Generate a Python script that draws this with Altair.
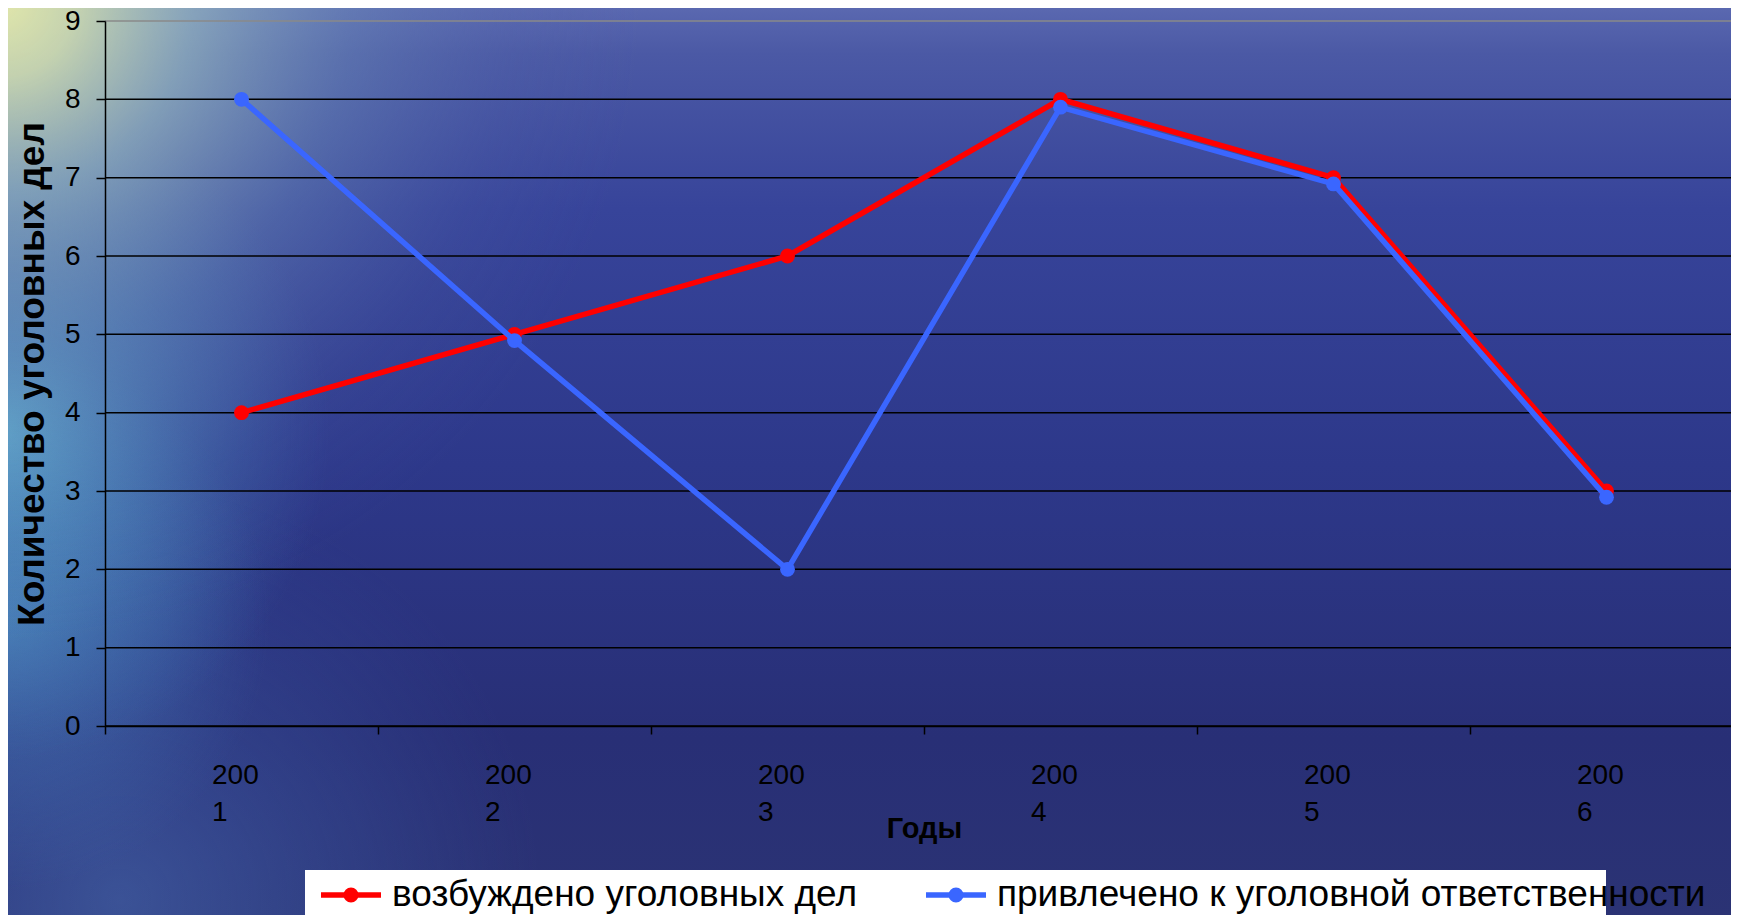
import altair as alt
import pandas as pd

years = ["2001", "2002", "2003", "2004", "2005", "2006"]
cases = [4, 5, 6, 8, 7, 3]
persons = [8, 4.92, 2, 7.9, 6.92, 2.92]
series_names = ["возбуждено уголовных дел", "привлечено к уголовной ответственности"]
series_colors = ["#FF0000", "#3A66FF"]
grid_values = [0, 1, 2, 3, 4, 5, 6, 7, 8, 9]

rows = []
for y, c, p in zip(years, cases, persons):
    rows.append({"year": y, "value": c, "series": series_names[0]})
    rows.append({"year": y, "value": p, "series": series_names[1]})
df = pd.DataFrame(rows)

FONT = "Liberation Sans"
W, H = 1626, 705
Y_TITLE = "Количество уголовных дел"
OX, OY = 105, 21  # plot origin on the page (for decorative background only)

one = pd.DataFrame({"a": [0]})


def glow(cx, cy, r, stops):
    """Decorative circular glow centred at page point (cx, cy) with radius r."""
    fill = alt.RadialGradient(
        gradient="radial", x1=0.5, y1=0.5, x2=0.5, y2=0.5, r1=0, r2=0.5,
        stops=[alt.GradientStop(color=c, offset=o) for o, c in stops],
    )
    return alt.Chart(one).mark_rect(fill=fill).encode(
        x=alt.value(cx - OX - r), x2=alt.value(cx - OX + r),
        y=alt.value(cy - OY - r), y2=alt.value(cy - OY + r),
    )


bg_base = alt.Chart(one).mark_rect(
    fill=alt.LinearGradient(
        gradient="linear", x1=0, y1=0, x2=0, y2=1,
        stops=[
            alt.GradientStop(color="#5a68b0", offset=0),
            alt.GradientStop(color="#4b59a5", offset=0.05),
            alt.GradientStop(color="#37449a", offset=0.22),
            alt.GradientStop(color="#2d388a", offset=0.5),
            alt.GradientStop(color="#282f76", offset=0.8),
            alt.GradientStop(color="#2b3374", offset=1),
        ],
    )
).encode(x=alt.value(-97), x2=alt.value(1650), y=alt.value(-13), y2=alt.value(900))

bg_bottom = glow(120, 900, 420, [
    (0, "rgba(72,108,178,0.55)"), (0.6, "rgba(62,92,168,0.25)"), (1, "rgba(55,80,160,0)"),
])
bg_teal_low = glow(0, 620, 270, [
    (0, "rgba(85,155,205,0.55)"), (0.6, "rgba(75,135,195,0.25)"), (1, "rgba(70,120,185,0)"),
])
bg_teal = glow(0, 430, 330, [
    (0, "rgba(105,195,218,0.8)"), (0.45, "rgba(88,165,205,0.45)"), (1, "rgba(70,130,190,0)"),
])
bg_corner = glow(0, 0, 640, [
    (0, "rgba(226,231,170,1)"),
    (0.12, "rgba(202,216,176,0.95)"),
    (0.3, "rgba(152,186,192,0.72)"),
    (0.55, "rgba(112,146,186,0.4)"),
    (0.8, "rgba(92,116,176,0.12)"),
    (1, "rgba(80,100,170,0)"),
])

legend_box = alt.Chart(one).mark_rect(fill="white").encode(
    x=alt.value(200), x2=alt.value(1501), y=alt.value(849), y2=alt.value(920)
)

y_scale = alt.Scale(domain=[0, 9], nice=False, zero=True)
y_axis = alt.Axis(
    titleFont=FONT, titleFontSize=37, titleFontWeight="bold", titleColor="black",
    titleX=-62, titleBaseline="alphabetic",
    values=grid_values, labelFont=FONT, labelFontSize=28, labelColor="black",
    labelPadding=16, tickSize=9, tickColor="black", tickWidth=1.5,
    domainColor="black", domainWidth=1.5, grid=False, zindex=1,
)

grid = alt.Chart(pd.DataFrame({"v": grid_values})).mark_rule(strokeWidth=1.5).encode(
    y=alt.Y("v:Q", scale=y_scale, axis=y_axis, title=Y_TITLE),
    stroke=alt.condition("datum.v == 9", alt.value("#8a8a8a"), alt.value("#000000")),
)

x_enc = alt.X(
    "year:N",
    sort=years,
    scale=alt.Scale(type="band", paddingInner=0, paddingOuter=0, range=[0, 1638]),
    axis=alt.Axis(
        title="Годы",
        titleFont=FONT, titleFontSize=29, titleFontWeight="bold", titleColor="black",
        titleX=819, titleY=111, titleBaseline="alphabetic", titleAlign="center",
        labelExpr="[substring(datum.label, 0, 3), substring(datum.label, 3)]",
        labelAlign="left", labelOffset=-30, labelBaseline="top",
        labelPadding=27, labelLineHeight=37, labelAngle=0,
        labelFont=FONT, labelFontSize=28, labelColor="black",
        ticks=True, tickBand="extent", tickSize=8, tickColor="black", tickWidth=1.5,
        domainColor="black", domainWidth=1.5, grid=False, zindex=1,
    ),
)

y_enc = alt.Y("value:Q", scale=y_scale, axis=y_axis, title=Y_TITLE)

legend_path = (
    "M-1,0H1"
    "M-0.16,0a0.16,0.16 0 1,0 0.32,0a0.16,0.16 0 1,0 -0.32,0"
    "M-0.07,0a0.07,0.07 0 1,0 0.14,0a0.07,0.07 0 1,0 -0.14,0"
)

color_enc = alt.Color(
    "series:N",
    scale=alt.Scale(domain=series_names, range=series_colors),
    legend=alt.Legend(
        title=None, orient="none", legendX=203, legendY=831, direction="horizontal",
        symbolType=legend_path, symbolSize=3600, symbolStrokeWidth=5.5,
        labelFont=FONT, labelFontSize=37, labelColor="black", labelOffset=8,
        labelLimit=0, columnPadding=58, padding=10,
    ),
)

base = alt.Chart(df).mark_line(
    strokeWidth=5.5, point=alt.OverlayMarkDef(filled=True, size=220)
).encode(x=x_enc, y=y_enc, color=color_enc)

red = base.transform_filter(alt.datum.series == series_names[0])
blue = base.transform_filter(alt.datum.series == series_names[1])

chart = alt.layer(
    bg_base, bg_bottom, bg_teal_low, bg_teal, bg_corner, legend_box, grid, red, blue
).properties(
    width=W, height=H,
    padding={"left": 97, "top": 13, "right": 0, "bottom": 189},
    autosize=alt.AutoSizeParams(type="none"),
    background="#2b3272",
).configure_view(strokeWidth=0)

chart.save("out.html", embed_options={"renderer": "svg", "actions": False})
